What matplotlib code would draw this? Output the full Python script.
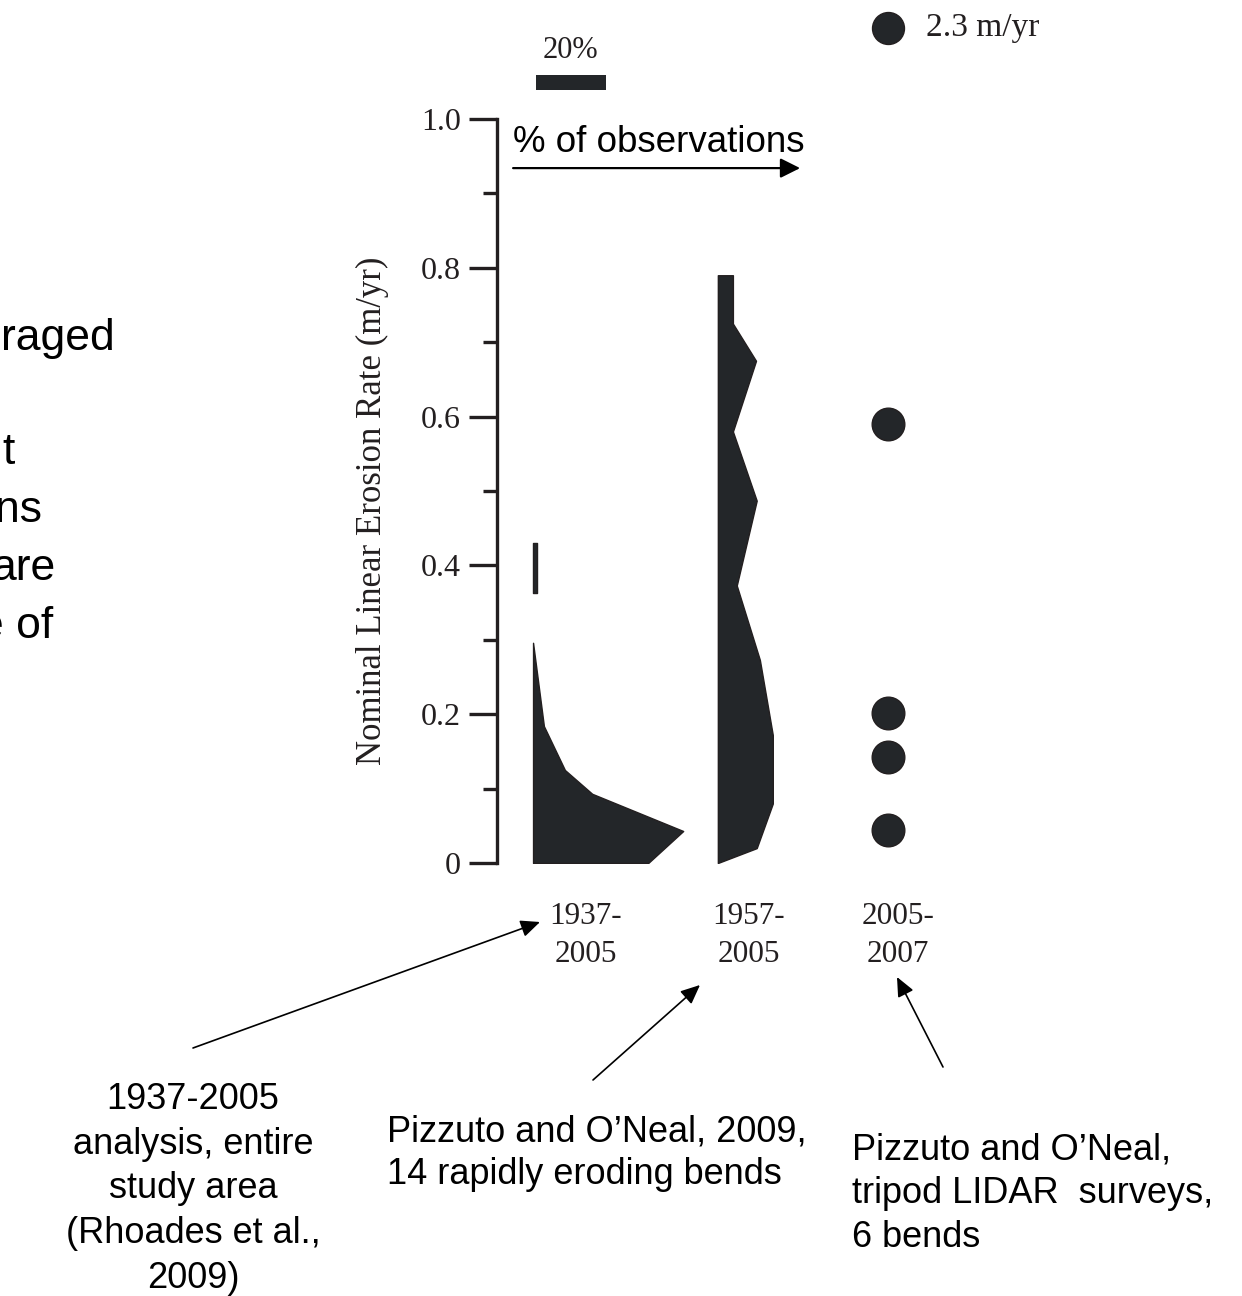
import matplotlib

matplotlib.use("Agg")
import matplotlib.pyplot as plt
import numpy as np

# ---------------------------------------------------------------------------
# data (erosion rate in m/yr, histogram widths in % of observations)
# ---------------------------------------------------------------------------

periods = ["1937-\n2005", "1957-\n2005", "2005-\n2007"]

rates_1937 = [0.0, 0.043, 0.093, 0.125, 0.184, 0.296]
pct_1937 = [32.9, 42.9, 16.9, 9.1, 3.1, 0.0]
rates_1937_top = [0.363, 0.430]
pct_1937_top = [1.1, 1.1]

rates_1957 = [0.0, 0.02, 0.08, 0.172, 0.273, 0.373, 0.487, 0.58, 0.675, 0.725, 0.79]
pct_1957 = [0.0, 11.1, 15.7, 15.7, 12.0, 5.4, 11.1, 4.3, 10.9, 4.3, 4.3]

lidar_rates = [0.59, 0.2016, 0.1425, 0.0444]
lidar_outlier = 2.3

yticks_major = [0.0, 0.2, 0.4, 0.6, 0.8, 1.0]
ytick_labels = ["0", "0.2", "0.4", "0.6", "0.8", "1.0"]
yticks_minor = [0.1, 0.3, 0.5, 0.7, 0.9]

SERIF = "Liberation Serif"
SANS = "Liberation Sans"
DARK = "#231f20"
FILL = "#232629"

W, H = 1242, 1296
fig = plt.figure(figsize=(W / 100, H / 100), dpi=100)


def px(x, y):
    """image pixel (origin top-left) -> figure fraction"""
    return x / W, 1 - y / H


# axis: left spine at x=497 px, y=0 at 863 px, y=1 at 119 px; 3.5 px per percent
x0, y0, y1 = 497, 863, 119
ax = fig.add_axes([x0 / W, 1 - y0 / H, (W - x0) / W, (y0 - y1) / H])
ax.set_xlim(0, (W - x0) / 3.5)
ax.set_ylim(0, 1.0)
ax.patch.set_alpha(0)
for s in ("top", "right", "bottom"):
    ax.spines[s].set_visible(False)
ax.spines["left"].set_linewidth(2.4)
ax.spines["left"].set_color(DARK)
ax.spines["left"].set_bounds(0, 1.0)

ax.set_yticks(yticks_major, ytick_labels, fontfamily=SERIF, fontsize=23, color=DARK)
ax.set_yticks(yticks_minor, minor=True)
ax.tick_params(axis="y", which="major", length=20, width=2.4, color=DARK, pad=6)
ax.tick_params(axis="y", which="minor", length=10, width=2.4, color=DARK)
ax.set_ylabel("Nominal Linear Erosion Rate (m/yr)", fontfamily=SERIF, fontsize=25, color=DARK)
ax.yaxis.set_label_coords(-0.145, 0.474)

# period labels below each column
base_1937, base_1957, base_lidar = 10.3, 63.1, 111.7
ax.set_xticks([25.4, 72.0, 114.6], periods, fontfamily=SERIF, fontsize=22.5, color=DARK,
              linespacing=1.42)
ax.tick_params(axis="x", length=0, pad=28)

# histograms drawn as half-violins
ax.fill_betweenx(rates_1937, base_1937, base_1937 + np.array(pct_1937),
                 facecolor=FILL, edgecolor=DARK, lw=1)
ax.fill_betweenx(rates_1937_top, base_1937, base_1937 + np.array(pct_1937_top),
                 facecolor=FILL, edgecolor=DARK, lw=1)
ax.fill_betweenx(rates_1957, base_1957, base_1957 + np.array(pct_1957),
                 facecolor=FILL, edgecolor=DARK, lw=1)

# individual LIDAR surveys
ax.plot([base_lidar] * len(lidar_rates), lidar_rates, "o", ms=23.5,
        mfc=FILL, mec=DARK, mew=1, clip_on=False)
ax.plot([base_lidar], [1.122], "o", ms=23, mfc=FILL, mec=DARK, mew=1, clip_on=False)
ax.text(base_lidar + 10.9, 1.122, f"{lidar_outlier} m/yr", fontfamily=SERIF, fontsize=24,
        color=DARK, va="center", ha="left", clip_on=False)

# 20% scale bar
ax.barh(1.049, 20, left=11.1, height=0.02, color=FILL, clip_on=False)
ax.text(11.1 + 10, 1.072, "20%", fontfamily=SERIF, fontsize=22, color=DARK,
        ha="center", va="bottom")

# % of observations arrow
ax.annotate("", xy=(86.6, 0.934), xytext=(4.6, 0.934),
            arrowprops=dict(arrowstyle="-|>,head_length=0.4,head_width=0.2",
                            mutation_scale=30, lw=1.6, color="black", shrinkA=0, shrinkB=0))
ax.text(4.6, 0.956, "% of observations", fontfamily=SANS, fontsize=26.5, color="black",
        va="baseline", ha="left")

# text box on the left, cut off by the slide edge in the original
left_frags = [("raged", 115, 350), ("t", 15, 464), ("ns", 42, 522), ("are", 55, 580), ("e of", 53, 638)]
for frag, xr, yb in left_frags:
    fig.text(*px(xr, yb), frag, fontfamily=SANS, fontsize=32, ha="right", va="baseline")

# source annotations: text, anchor (px), align, linespacing, arrow tail, arrow tip
notes = [
    ("1937-2005\nanalysis, entire\nstudy area\n(Rhoades et al.,\n2009)", (193, 1082), "center",
     1.36, (193, 1048), (540, 922)),
    ("Pizzuto and O\u2019Neal, 2009,\n14 rapidly eroding bends", (387, 1115), "left",
     1.25, (593, 1080), (700, 985)),
    ("Pizzuto and O\u2019Neal,\ntripod LIDAR  surveys,\n6 bends", (852, 1132), "left",
     1.34, (943, 1067), (897, 977)),
]
for txt, (tx, ty), ha, ls, tail, tip in notes:
    fig.text(*px(tx, ty), txt, fontfamily=SANS, fontsize=26, ha=ha, va="top",
             multialignment="center" if ha == "center" else "left", linespacing=ls)
    ax.annotate("", xy=(tip[0], H - tip[1]), xytext=(tail[0], H - tail[1]),
                xycoords="figure pixels", textcoords="figure pixels",
                arrowprops=dict(arrowstyle="-|>,head_length=0.45,head_width=0.2",
                                mutation_scale=26, lw=1.2, color="black", shrinkA=0, shrinkB=0))

fig.savefig("out.png", dpi=100)
